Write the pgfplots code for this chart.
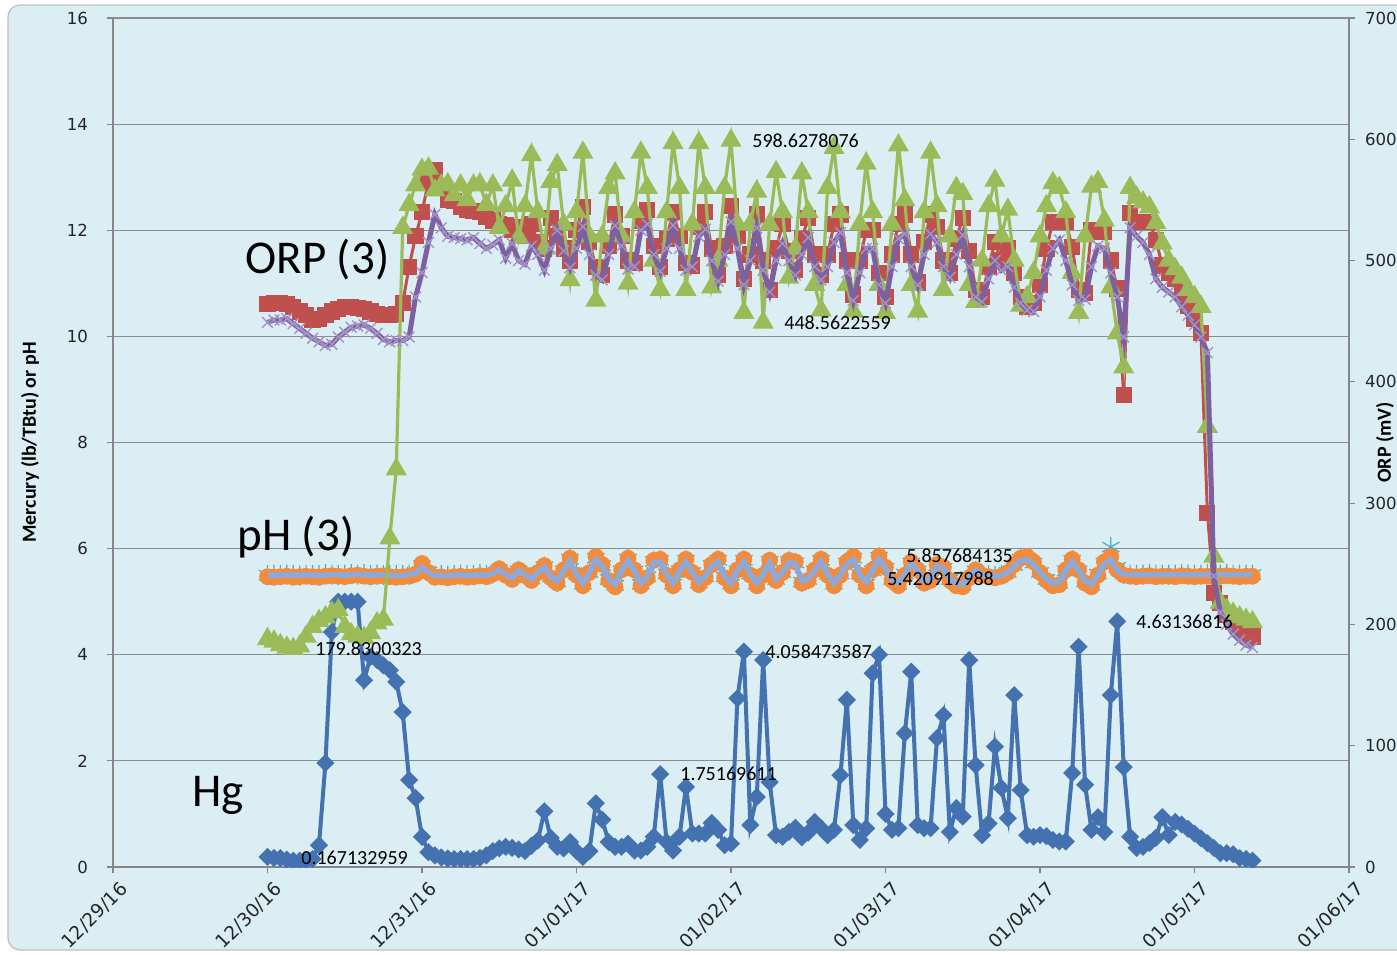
\documentclass[border=0pt]{standalone}
\usepackage{pgfplots}
\usepackage{pgfplotstable}
\pgfplotsset{compat=1.18}
\usepackage{fontspec}
\setmainfont{Carlito}
\newfontfamily\dejavu{DejaVu Sans}
\newcommand{\tickfont}{\dejavu\fontsize{8.3}{10}\selectfont}
\newcommand{\datefont}{\dejavu\fontsize{9.3}{11}\selectfont}
\definecolor{bgblue}{HTML}{DAEEF3}
\definecolor{framegray}{HTML}{BFBFBF}
\definecolor{axisgray}{HTML}{868686}
\definecolor{gridgray}{HTML}{8C8C8C}
\definecolor{hgblue}{HTML}{4472B0}
\definecolor{orpred}{HTML}{C0504D}
\definecolor{orpgreen}{HTML}{9BBB59}
\definecolor{orppurple}{HTML}{7D60A0}
\definecolor{orpxmark}{HTML}{A593C8}
\definecolor{phorange}{HTML}{F28C3C}
\definecolor{phaqua}{HTML}{4BACC6}
\definecolor{phline}{HTML}{8EA9D8}

% h = hours after 12/30/16 00:00
\pgfplotstableread{
h hg pha phb phc r g p
0 0.19 5.47 5.50 5.50 464 188 449
1 0.17 5.46 5.51 5.50 465 186 451
2 0.167 5.47 5.50 5.50 465 183 451
3 0.14 5.48 5.51 5.51 464 181 452
4 0.12 5.46 5.50 5.50 462 180 448
5 0.12 5.47 5.49 5.50 458 182 444
6 0.12 5.48 5.51 5.51 455 190 440
7 0.15 5.47 5.50 5.50 451 198 436
8 0.41 5.46 5.50 5.49 452 203 433
9 1.96 5.48 5.52 5.51 455 206 430
10 4.43 5.49 5.51 5.51 458 210 431
11 5.00 5.48 5.50 5.51 460 212 437
12 5.00 5.47 5.51 5.50 462 198 441
13 5.00 5.49 5.52 5.51 462 192 445
14 5.00 5.50 5.51 5.52 461 190 446
15 3.52 5.48 5.52 5.51 460 189 447
16 3.96 5.47 5.50 5.50 458 193 444
17 3.90 5.48 5.51 5.51 456 201 440
18 3.80 5.49 5.50 5.51 455 204 435
19 3.71 5.47 5.51 5.50 455 271 433
20 3.49 5.46 5.50 5.49 456 328 434
21 2.92 5.47 5.50 5.50 465 527 434
22 1.64 5.48 5.51 5.51 495 546 437
23 1.30 5.52 5.55 5.54 520 562 470
24 0.57 5.72 5.68 5.65 540 575 490
25 0.28 5.55 5.56 5.55 565 576 515
26 0.22 5.46 5.49 5.49 575 558 538
27 0.18 5.47 5.50 5.50 560 562 527
28 0.16 5.45 5.49 5.48 550 563 520
29 0.15 5.47 5.50 5.50 549 554 519
30 0.15 5.48 5.51 5.51 544 562 518
31 0.15 5.46 5.50 5.49 542 550 517
32 0.15 5.47 5.50 5.50 541 562 519
33 0.17 5.49 5.52 5.51 540 563 514
34 0.22 5.47 5.50 5.50 536 546 510
35 0.30 5.52 5.53 5.53 533 562 513
36 0.35 5.62 5.60 5.60 530 527 517
37 0.38 5.50 5.52 5.51 529 545 502
38 0.36 5.42 5.45 5.45 525 566 514
39 0.33 5.60 5.58 5.58 528 519 500
40 0.30 5.50 5.51 5.51 520 545 497
41 0.40 5.40 5.43 5.43 530 587 512
42 0.50 5.55 5.55 5.55 515 540 505
43 1.05 5.68 5.66 5.65 510 510 492
44 0.55 5.45 5.47 5.47 535 565 510
45 0.38 5.35 5.37 5.39 520 579 525
46 0.35 5.60 5.58 5.59 510 530 508
47 0.47 5.82 5.80 5.77 500 484 494
48 0.30 5.50 5.52 5.51 525 540 510
49 0.19 5.30 5.33 5.35 544 589 528
50 0.30 5.55 5.55 5.55 515 520 505
51 1.20 5.85 5.82 5.79 495 467 488
52 0.89 5.70 5.68 5.67 488 520 484
53 0.47 5.40 5.42 5.43 512 560 505
54 0.38 5.28 5.31 5.33 538 572 529
55 0.38 5.60 5.58 5.59 520 520 512
56 0.44 5.82 5.80 5.77 500 481 493
57 0.31 5.60 5.58 5.59 498 540 495
58 0.31 5.30 5.33 5.35 533 589 525
59 0.38 5.45 5.47 5.47 542 560 530
60 0.57 5.78 5.76 5.73 512 500 505
61 1.75 5.80 5.78 5.75 495 476 491
62 0.47 5.50 5.52 5.51 518 540 510
63 0.31 5.30 5.33 5.35 540 597 529
64 0.57 5.60 5.58 5.59 520 560 510
65 1.51 5.80 5.78 5.75 498 476 492
66 0.63 5.55 5.55 5.55 496 530 495
67 0.63 5.32 5.35 5.37 528 597 520
68 0.63 5.45 5.47 5.47 540 560 526
69 0.83 5.70 5.68 5.67 510 478 500
70 0.70 5.80 5.78 5.75 488 500 483
71 0.41 5.45 5.47 5.47 512 560 505
72 0.44 5.30 5.33 5.35 545 599 532
73 3.18 5.60 5.58 5.59 520 530 510
74 4.06 5.80 5.78 5.75 485 457 480
75 0.79 5.50 5.52 5.51 505 530 500
76 1.32 5.30 5.33 5.35 538 557 527
77 3.90 5.50 5.52 5.51 500 449 492
78 1.60 5.78 5.76 5.73 476 530 474
79 0.60 5.40 5.42 5.43 510 573 500
80 0.57 5.55 5.55 5.55 530 540 514
81 0.66 5.78 5.76 5.73 508 486 500
82 0.74 5.75 5.73 5.71 492 510 488
83 0.56 5.35 5.37 5.39 518 572 505
84 0.65 5.40 5.42 5.43 535 540 519
85 0.85 5.60 5.58 5.59 505 480 495
86 0.73 5.80 5.78 5.75 488 459 484
87 0.60 5.50 5.52 5.51 505 560 495
88 0.70 5.30 5.33 5.35 530 593 515
89 1.73 5.50 5.52 5.51 538 540 523
90 3.15 5.75 5.73 5.71 500 480 490
91 0.79 5.85 5.82 5.79 472 458 467
92 0.51 5.50 5.52 5.51 500 530 490
93 0.73 5.30 5.33 5.37 525 580 510
94 3.65 5.60 5.58 5.59 525 540 510
95 4.00 5.86 5.84 5.80 490 480 480
96 1.00 5.65 5.63 5.63 470 457 465
97 0.70 5.40 5.42 5.43 505 530 495
98 0.73 5.30 5.33 5.35 530 595 518
99 2.52 5.50 5.52 5.51 538 550 522
100 3.68 5.75 5.73 5.71 505 480 495
101 0.79 5.60 5.58 5.59 482 458 480
102 0.73 5.35 5.37 5.39 515 540 505
103 0.73 5.40 5.42 5.43 538 589 522
104 2.43 5.70 5.68 5.67 528 545 515
105 2.86 5.65 5.63 5.63 500 476 495
106 0.66 5.40 5.42 5.43 490 520 486
107 1.11 5.30 5.33 5.35 518 560 505
108 0.95 5.28 5.31 5.33 535 555 521
109 3.90 5.45 5.47 5.47 508 480 495
110 1.92 5.60 5.58 5.59 476 466 470
111 0.60 5.50 5.52 5.51 470 500 466
112 0.82 5.47 5.50 5.49 495 545 485
113 2.27 5.45 5.48 5.48 515 566 500
114 1.49 5.48 5.50 5.50 500 520 492
115 0.92 5.55 5.55 5.55 510 542 495
116 3.24 5.70 5.68 5.67 490 500 478
117 1.45 5.82 5.80 5.77 470 463 465
118 0.60 5.85 5.82 5.79 462 470 459
119 0.57 5.75 5.73 5.71 465 490 458
120 0.60 5.55 5.55 5.55 480 520 470
121 0.58 5.40 5.42 5.43 510 545 492
122 0.51 5.30 5.33 5.35 532 564 510
123 0.48 5.32 5.35 5.37 532 560 517
124 0.48 5.60 5.58 5.59 532 540 500
125 1.77 5.80 5.78 5.75 511 490 480
126 4.15 5.60 5.58 5.59 476 457 467
127 1.55 5.35 5.37 5.39 473 520 468
128 0.70 5.28 5.31 5.33 525 561 495
129 0.94 5.50 5.52 5.51 524 565 512
130 0.66 5.75 5.73 5.71 524 533 510
131 3.24 5.85 6.03 5.79 500 478 490
132 4.63 5.60 5.65 5.59 477 440 470
133 1.88 5.50 5.52 5.52 389 412 437
134 0.57 5.48 5.51 5.51 539 560 527
135 0.36 5.47 5.51 5.51 532 552 520
136 0.38 5.48 5.51 5.51 532 548 515
137 0.45 5.49 5.52 5.51 532 544 505
138 0.55 5.47 5.51 5.51 517 531 485
139 0.94 5.48 5.51 5.51 496 514 478
140 0.60 5.48 5.51 5.51 490 500 474
141 0.85 5.47 5.51 5.51 485 493 470
142 0.80 5.49 5.52 5.51 473 486 462
143 0.72 5.48 5.51 5.51 463 476 455
144 0.63 5.47 5.51 5.51 452 470 447
145 0.54 5.48 5.51 5.51 440 462 437
146 0.45 5.48 5.52 5.51 292 363 424
147 0.36 5.47 5.51 5.51 226 256 240
148 0.26 5.48 5.51 5.51 218 218 210
149 0.26 5.49 5.52 5.51 208 212 200
150 0.24 5.48 5.51 5.51 202 209 192
151 0.17 5.47 5.51 5.51 196 206 187
152 0.15 5.48 5.51 5.51 192 204 183
153 0.12 5.48 5.51 5.51 190 202 181
}\data

\begin{document}
\begin{tikzpicture}
\useasboundingbox (-56.5pt,-43.5pt) rectangle (642pt,433.5pt);
\fill[white] (-56.5pt,-43.5pt) rectangle (642pt,433.5pt);
\filldraw[fill=bgblue, draw=framegray, line width=0.6pt, rounded corners=6pt] (-52.5pt,-41.5pt) rectangle (650pt,431pt);

\pgfplotsset{
  common/.style={
    at={(0pt,0pt)}, anchor=south west,
    scale only axis, width=618pt, height=424.5pt,
    xmin=-24, xmax=168,
    clip marker paths=true,
    tick align=outside, major tick length=3pt,
    tick style={draw=axisgray, line width=0.6pt},
    axis line style={draw=axisgray, line width=0.6pt},
    /pgf/number format/assume math mode=true,
    yticklabel style={font=\tickfont, text=black!85},
  }
}

\begin{axis}[common,
  ymin=0, ymax=16,
  axis x line*=bottom, axis y line*=left,
  xtick={-24,0,24,48,72,96,120,144,168},
  xticklabels={12/29/16,12/30/16,12/31/16,01/01/17,01/02/17,01/03/17,01/04/17,01/05/17,01/06/17},
  xticklabel style={font=\datefont, text=black!85, rotate=45, anchor=north east, inner sep=0.5pt, xshift=0pt, yshift=-4pt},
  ytick={0,2,...,16},
  yticklabel style={xshift=-6pt},
  ymajorgrids, grid style={draw=gridgray, line width=0.6pt},
  ylabel={Mercury (lb/TBtu) or pH},
  every axis y label/.style={at={(axis description cs:0,0.5)}, xshift=-41.5pt, rotate=90, anchor=center, font=\bfseries\fontsize{10}{12}\selectfont},
]
\addplot[color=hgblue, line width=2pt, mark=square*, mark size=2.2pt, mark options={solid, rotate=45, fill=hgblue, draw=hgblue}] table[x=h, y=hg]{\data};
\addplot[color=phaqua, line width=0.6pt, only marks, mark=asterisk, mark size=5pt, mark options={solid, line width=0.6pt}] table[x=h, y=phb]{\data};
\addplot[color=phorange, line width=1.5pt, mark=*, mark size=3.4pt, mark options={solid, fill=phorange, draw=phorange}] table[x=h, y=pha]{\data};
\addplot[color=phline, line width=2.8pt, no marks] table[x=h, y=phc]{\data};
\end{axis}

\begin{axis}[common,
  ymin=0, ymax=700,
  axis y line*=right, axis x line=none,
  ytick={0,100,...,700},
  yticklabel style={anchor=west, xshift=1.5pt},
  ylabel={ORP (mV)},
  every axis y label/.style={at={(axis description cs:1,0.5)}, xshift=18pt, rotate=90, anchor=center, inner sep=0pt, font=\bfseries\fontsize{10}{12}\selectfont},
]
\addplot[color=orpred, line width=1.5pt, mark=square*, mark size=3.3pt, mark options={solid, fill=orpred, draw=orpred}] table[x=h, y=r]{\data};
\addplot[color=orpgreen, line width=1.6pt, mark=triangle*, mark size=4.5pt, mark options={solid, fill=orpgreen, draw=orpgreen}] table[x=h, y=g]{\data};
\addplot[color=orppurple, line width=2.5pt, mark=x, mark size=3.8pt, mark options={solid, draw=orpxmark, line width=0.7pt}] table[x=h, y=p]{\data};
\end{axis}

\begin{scope}[x=0.5pt, y=-0.5pt, shift={(-113,-867)}]
\node[anchor=west, inner sep=0pt, font=\fontsize{23.5}{28}\selectfont] at (245,260) {ORP (3)};
\node[anchor=west, inner sep=0pt, font=\fontsize{23.5}{28}\selectfont] at (237,537) {pH (3)};
\node[anchor=west, inner sep=0pt, font=\fontsize{23.5}{28}\selectfont] at (192,795) {Hg};
\begin{scope}[every node/.style={anchor=west, inner sep=0pt, font=\fontsize{10}{12}\selectfont}]
\node at (752,141) {598.6278076};
\node at (784,323) {448.5622559};
\node at (315,649) {179.8300323};
\node at (301,858) {0.167132959};
\node at (680,774) {1.75169611};
\node at (765,652) {4.058473587};
\node at (906,556) {5.857684135};
\node at (887,579) {5.420917988};
\node at (1136,622) {4.63136816};
\end{scope}
\end{scope}
\end{tikzpicture}
\end{document}
